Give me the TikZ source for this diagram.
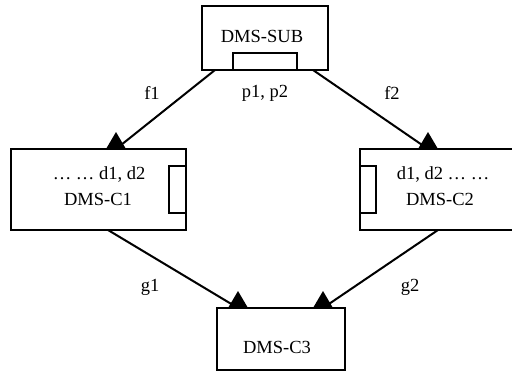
\documentclass[tikz,border=0pt]{standalone}
\usepackage{fontspec}
\setmainfont{Liberation Serif}
\begin{document}
\begin{tikzpicture}[x=1pt,y=-1pt,
  box/.style={draw,line width=2pt,inner sep=0pt,outer sep=0pt},
  port/.style={draw,line width=2pt,fill=white,inner sep=0pt,outer sep=0pt},
  txt/.style={inner sep=0pt,font=\fontsize{18.5}{20}\selectfont},
  link/.style={line width=2pt},
  headfill/.style={fill=black}]
\useasboundingbox (0,0) rectangle (512,373);
\clip (0,0) rectangle (512,373);

% module boxes
\node[box,minimum width=126pt,minimum height=64pt] (sub) at (265,38) {};
\node[box,minimum width=175pt,minimum height=81pt] (c1) at (98.5,189.5) {};
\node[box,minimum width=160pt,minimum height=81pt] (c2) at (440,189.5) {};
\node[box,minimum width=128pt,minimum height=62pt] (c3) at (281,339) {};

% interface ports
\node[port,minimum width=64pt,minimum height=17pt,anchor=south] (psub) at (sub.south) {};
\node[port,minimum width=17pt,minimum height=47pt,anchor=north east] (pc1) at (186,166) {};
\node[port,minimum width=16pt,minimum height=47pt,anchor=north west] (pc2) at (360,166) {};

% box texts
\node[txt,anchor=base] (tsub) at (262,42.5) {DMS-SUB};
\node[txt,anchor=base] (tc1a) at (99,179) {… … d1, d2};
\node[txt,anchor=base] (tc1b) at (98,205) {DMS-C1};
\node[txt,anchor=base] (tc2a) at (443,179) {d1, d2 … …};
\node[txt,anchor=base] (tc2b) at (440,205) {DMS-C2};
\node[txt,anchor=base] (tc3) at (277,353) {DMS-C3};

% connector ends
\coordinate (f1s) at (215,70);  \coordinate (f1e) at (116,149);
\coordinate (f2s) at (313,70);  \coordinate (f2e) at (428,149);
\coordinate (g1s) at (108,230); \coordinate (g1e) at (238,308);
\coordinate (g2s) at (438,230); \coordinate (g2e) at (323,308);

% connectors
\draw[link] (f1s) -- (f1e);
\draw[link] (f2s) -- (f2e);
\draw[link] (g1s) -- (g1e);
\draw[link] (g2s) -- (g2e);

% triangular heads resting on the target box edges
\foreach \h in {f1e,f2e,g1e,g2e}
  \fill[headfill] (\h) +(-10,0) -- +(10,0) -- +(0,-17) -- cycle;

% connector labels
\node[txt] (lf1) at (152,93) {f1};
\node[txt] (lp) at (265,93) {p1, p2};
\node[txt] (lf2) at (392,93) {f2};
\node[txt] (lg1) at (150,287) {g1};
\node[txt] (lg2) at (410,287) {g2};
\end{tikzpicture}
\end{document}
